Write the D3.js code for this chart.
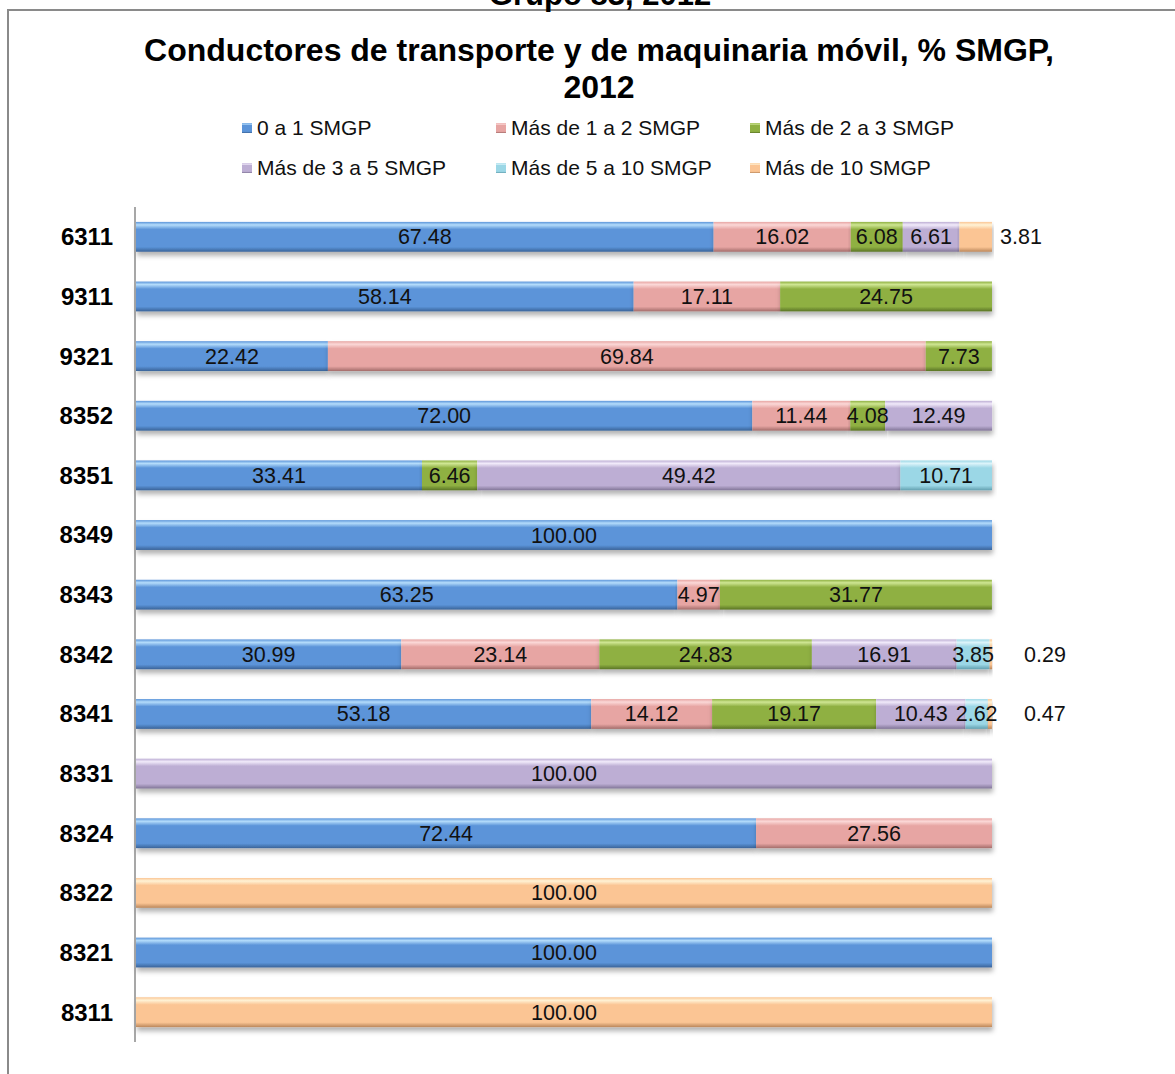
<!DOCTYPE html>
<html>
<head>
<meta charset="utf-8">
<style>
  body { margin: 0; background: white; }
  svg { display: block; font-family: Arial, "Liberation Sans", Helvetica, sans-serif; }
</style>
<script src="https://cdn.jsdelivr.net/npm/d3@7"></script>
</head>
<body>
<svg id="chart" width="1175" height="1074"></svg>
<script>
// categories (top to bottom)
let categories = ["6311", "9311", "9321", "8352", "8351", "8349", "8343", "8342", "8341", "8331", "8324", "8322", "8321", "8311"]
let seriesNames = ["0 a 1 SMGP", "Más de 1 a 2 SMGP", "Más de 2 a 3 SMGP", "Más de 3 a 5 SMGP", "Más de 5 a 10 SMGP", "Más de 10 SMGP"]

// values per series, same order as categories
let s0a1 =    [67.48, 58.14, 22.42, 72.00, 33.41, 100, 63.25, 30.99, 53.18, 0, 72.44, 0, 100, 0]
let s1a2 =    [16.02, 17.11, 69.84, 11.44, 0, 0, 4.97, 23.14, 14.12, 0, 27.56, 0, 0, 0]
let s2a3 =    [6.08, 24.75, 7.73, 4.08, 6.46, 0, 31.77, 24.83, 19.17, 0, 0, 0, 0, 0]
let s3a5 =    [6.61, 0, 0, 12.49, 49.42, 0, 0, 16.91, 10.43, 100, 0, 0, 0, 0]
let s5a10 =   [0, 0, 0, 0, 10.71, 0, 0, 3.85, 2.62, 0, 0, 0, 0, 0]
let s10 =     [3.81, 0, 0, 0, 0, 0, 0, 0.29, 0.47, 0, 0, 100, 0, 100]

let seriesValues = [s0a1, s1a2, s2a3, s3a5, s5a10, s10]

// base, highlight, shade
let palette = [
  ["#5b94d9", "#b4dcfb", "#3a6398"],
  ["#e7a5a3", "#fbd8d7", "#a36c6a"],
  ["#8fb042", "#cfe693", "#5a7425"],
  ["#bdaed4", "#f1eafa", "#817597"],
  ["#9bd7e6", "#dcf4fa", "#63a0b0"],
  ["#fbc594", "#fff3d6", "#bb875b"]
]

let svg = d3.select("#chart")
let defs = svg.append("defs")

palette.forEach((c, i) => {
  let g = defs.append("linearGradient").attr("id", "grad" + i)
    .attr("x1", 0).attr("y1", 0).attr("x2", 0).attr("y2", 1)
  g.append("stop").attr("offset", "0%").attr("stop-color", c[0])
  g.append("stop").attr("offset", "10%").attr("stop-color", c[1])
  g.append("stop").attr("offset", "25%").attr("stop-color", c[0])
  g.append("stop").attr("offset", "84%").attr("stop-color", c[0])
  g.append("stop").attr("offset", "100%").attr("stop-color", c[2])
})

let shadow = defs.append("filter").attr("id", "shadow")
  .attr("x", "-5%").attr("y", "-20%").attr("width", "110%").attr("height", "160%")
shadow.append("feDropShadow").attr("dx", 1).attr("dy", 4).attr("stdDeviation", 2.5)
  .attr("flood-color", "#000").attr("flood-opacity", 0.3)

// frame
svg.append("rect").attr("x", 8).attr("y", 10).attr("width", 1300).attr("height", 1200)
  .attr("fill", "white").attr("stroke", "#8a8a8a").attr("stroke-width", 2)

// outer title, cut off by the top edge as in the source
svg.append("text").attr("x", 600).attr("y", 5).attr("text-anchor", "middle")
  .attr("font-size", 31).attr("font-weight", "bold").text("Grupo 83, 2012")

// title
let title = svg.append("text").attr("text-anchor", "middle")
  .attr("font-size", 32).attr("font-weight", "bold")
title.append("tspan").attr("x", 599).attr("y", 61).text("Conductores de transporte y de maquinaria móvil, % SMGP,")
title.append("tspan").attr("x", 599).attr("y", 98).text("2012")

// legend
let legendX = [242, 496, 750]
let legendY = [128, 168]
seriesNames.forEach((name, i) => {
  let lx = legendX[i % 3], ly = legendY[Math.floor(i / 3)]
  svg.append("rect").attr("x", lx).attr("y", ly - 5).attr("width", 10).attr("height", 10)
    .attr("fill", "url(#grad" + i + ")")
  svg.append("text").attr("x", lx + 15).attr("y", ly).attr("dy", "0.35em")
    .attr("font-size", 21).attr("fill", "#111").text(name)
})

// scales
let x = d3.scaleLinear().domain([0, 100]).range([136, 992])
let y = d3.scaleBand().domain(categories).range([207, 1042])
  .paddingInner(0.5).paddingOuter(0.25)

// stacking
let table = categories.map((c, ci) => {
  let row = { cat: c }
  seriesNames.forEach((s, si) => row[s] = seriesValues[si][ci])
  return row
})
let stacked = d3.stack().keys(seriesNames)(table)

let layers = svg.append("g").selectAll("g").data(stacked).enter().append("g")
  .attr("fill", (d, i) => "url(#grad" + i + ")")

layers.selectAll("rect").data(d => d.filter(p => p[1] - p[0] > 0)).enter().append("rect")
  .attr("x", d => x(d[0]))
  .attr("y", d => y(d.data.cat))
  .attr("width", d => x(d[1]) - x(d[0]))
  .attr("height", y.bandwidth())
  .attr("filter", "url(#shadow)")

// axis line
svg.append("line").attr("x1", 135).attr("x2", 135).attr("y1", 207).attr("y2", 1042)
  .attr("stroke", "#8a8a8a").attr("stroke-width", 1.5)

// category labels
svg.append("g").selectAll("text").data(categories).enter().append("text")
  .attr("x", 113).attr("y", d => y(d) + y.bandwidth() / 2).attr("dy", "0.35em")
  .attr("text-anchor", "end").attr("font-size", 24).attr("font-weight", "bold")
  .text(d => d)

// data labels
stacked.forEach((layer, si) => {
  layer.forEach(p => {
    let v = p[1] - p[0]
    if (v <= 0) return
    let cx = (x(p[0]) + x(p[1])) / 2
    let anchor = "middle"
    if (si === 5 && v < 5) {
      // small last segment: label placed to the right of the bar
      cx = x(p[1]) + (v < 1 ? 32 : 8)
      anchor = "start"
    }
    svg.append("text").attr("x", cx).attr("y", y(p.data.cat) + y.bandwidth() / 2)
      .attr("dy", "0.35em").attr("text-anchor", anchor)
      .attr("font-size", 21.5).attr("fill", "#111")
      .text(d3.format(".2f")(v))
  })
})
</script>
</body>
</html>
